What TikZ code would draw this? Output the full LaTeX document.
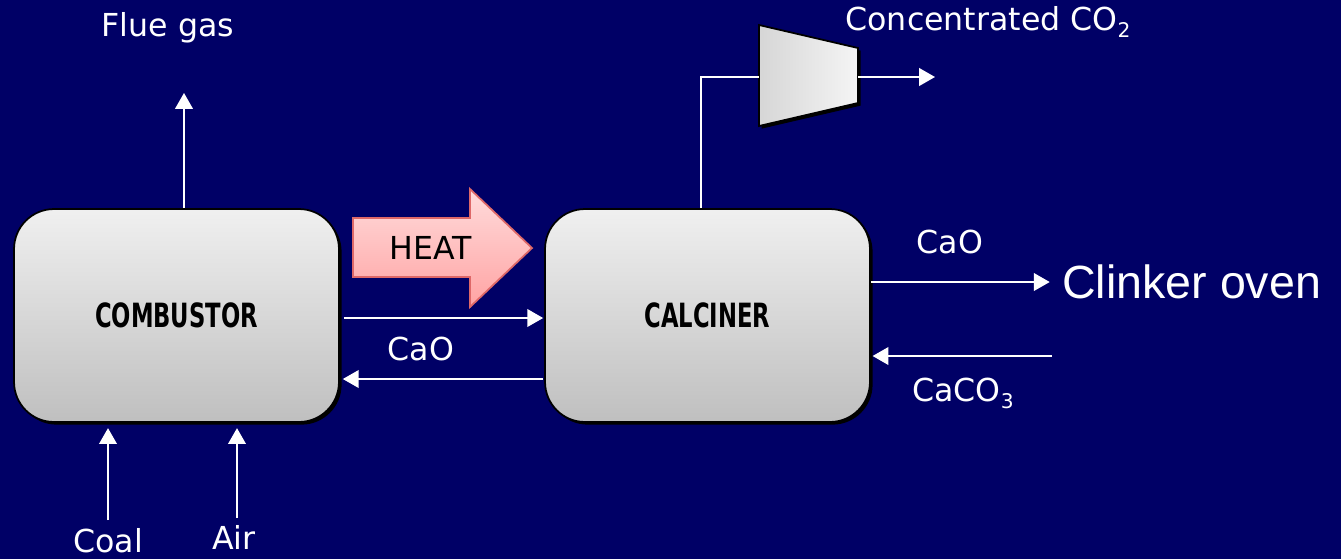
\documentclass[tikz,border=0pt]{standalone}
\usepackage{fontspec}
\setmainfont{DejaVu Sans}
\newfontfamily\ovenfont{Liberation Sans}
\newfontfamily\boxfont[FakeStretch=0.68]{DejaVu Sans}
\usetikzlibrary{positioning, shadows, calc, arrows.meta}
\definecolor{navybg}{RGB}{0,0,102}
\definecolor{heatedge}{RGB}{222,104,104}
\newcommand{\chemsub}[1]{\raisebox{-0.4ex}{\fontsize{11.5}{12}\selectfont #1}}

\begin{document}
\begin{tikzpicture}[x=0.02cm, y=-0.02cm,
  unit/.style={draw=black, line width=1pt, rounded corners=0.8cm,
    top color=gray!12, bottom color=gray!50,
    minimum width=6.5cm, minimum height=4.26cm,
    drop shadow={shadow xshift=1.5pt, shadow yshift=-1.5pt, fill=black, opacity=1},
    font=\boxfont\bfseries\fontsize{19}{22}\selectfont},
  flow/.style={white, line width=1.1pt, -{Triangle[length=9pt, width=10pt]}},
  pipe/.style={white, line width=1.1pt},
  lbl/.style={text=white, inner sep=0pt, font=\fontsize{18}{20}\selectfont}]

\fill[navybg] (0,0) rectangle (1341,559);
\useasboundingbox (0,0) rectangle (1341,559);

% units
\node[unit] (comb) at (176.5,315.5) {COMBUSTOR};
\node[unit] (calc) at (707.5,315.5) {CALCINER};

% heat transfer
\path[draw=heatedge, line width=1pt, top color=red!14, bottom color=red!36]
  (353,218) -- (470,218) -- (470,189) -- (532,248) -- (470,307) -- (470,277) -- (353,277) -- cycle;
\node[inner sep=0pt, font=\fontsize{18}{20}\selectfont] (heatlbl) at (431,248) {HEAT};

% compressor
\coordinate (compin) at (759,77);
\coordinate (compout) at (858,77);
\coordinate (co2tip) at (935,77);
\coordinate (riser) at (701,0);
\path[draw=black, line width=1pt, left color=gray!32, right color=gray!8,
  drop shadow={shadow xshift=1.5pt, shadow yshift=-1.5pt, fill=black, opacity=1}]
  (759,25) -- (858,48) -- (858,103) -- (759,126) -- cycle;

% labels
\node[lbl] (fluelbl) at (168,28) {Flue gas};
\node[lbl] (co2lbl) at (988,22) {Concentrated CO\chemsub{2}};
\node[lbl] (caomid) at (421,349) {CaO};
\node[lbl] (caoout) at (950,242) {CaO};
\node[lbl] (caco3lbl) at (963,393) {CaCO\chemsub{3}};
\node[lbl] (coallbl) at (108,541) {Coal};
\node[lbl] (airlbl) at (234,537) {Air};
\node[text=white, inner sep=0pt, anchor=west, font=\ovenfont\fontsize{26.5}{30}\selectfont] (oven) at (1062,282) {Clinker oven};

% streams
\coordinate (fluetip) at (184,93);
\coordinate (coalin) at (108,520);
\coordinate (airin) at (237,518);
\coordinate (feedin) at (1052,356);
\draw[flow] (comb.north -| fluetip) -- (fluetip);
\draw[flow, shorten >=3pt] (coalin) -- (coalin |- comb.south);
\draw[flow, shorten >=3pt] (airin) -- (airin |- comb.south);
\draw[flow] ($(comb.east)+(4,2.5)$) -- ($(calc.west)+(-1,2.5)$);
\draw[flow] ($(calc.west)+(-1,63.5)$) -- ($(comb.east)+(3,63.5)$);
\draw[flow, shorten >=7pt] (calc.east |- oven.west) -- (oven.west);
\draw[flow, shorten >=1pt] (feedin) -- (feedin -| calc.east);
\draw[pipe] (calc.north -| riser) |- (compin);
\draw[flow] (compout) -- (co2tip);

\end{tikzpicture}
\end{document}
